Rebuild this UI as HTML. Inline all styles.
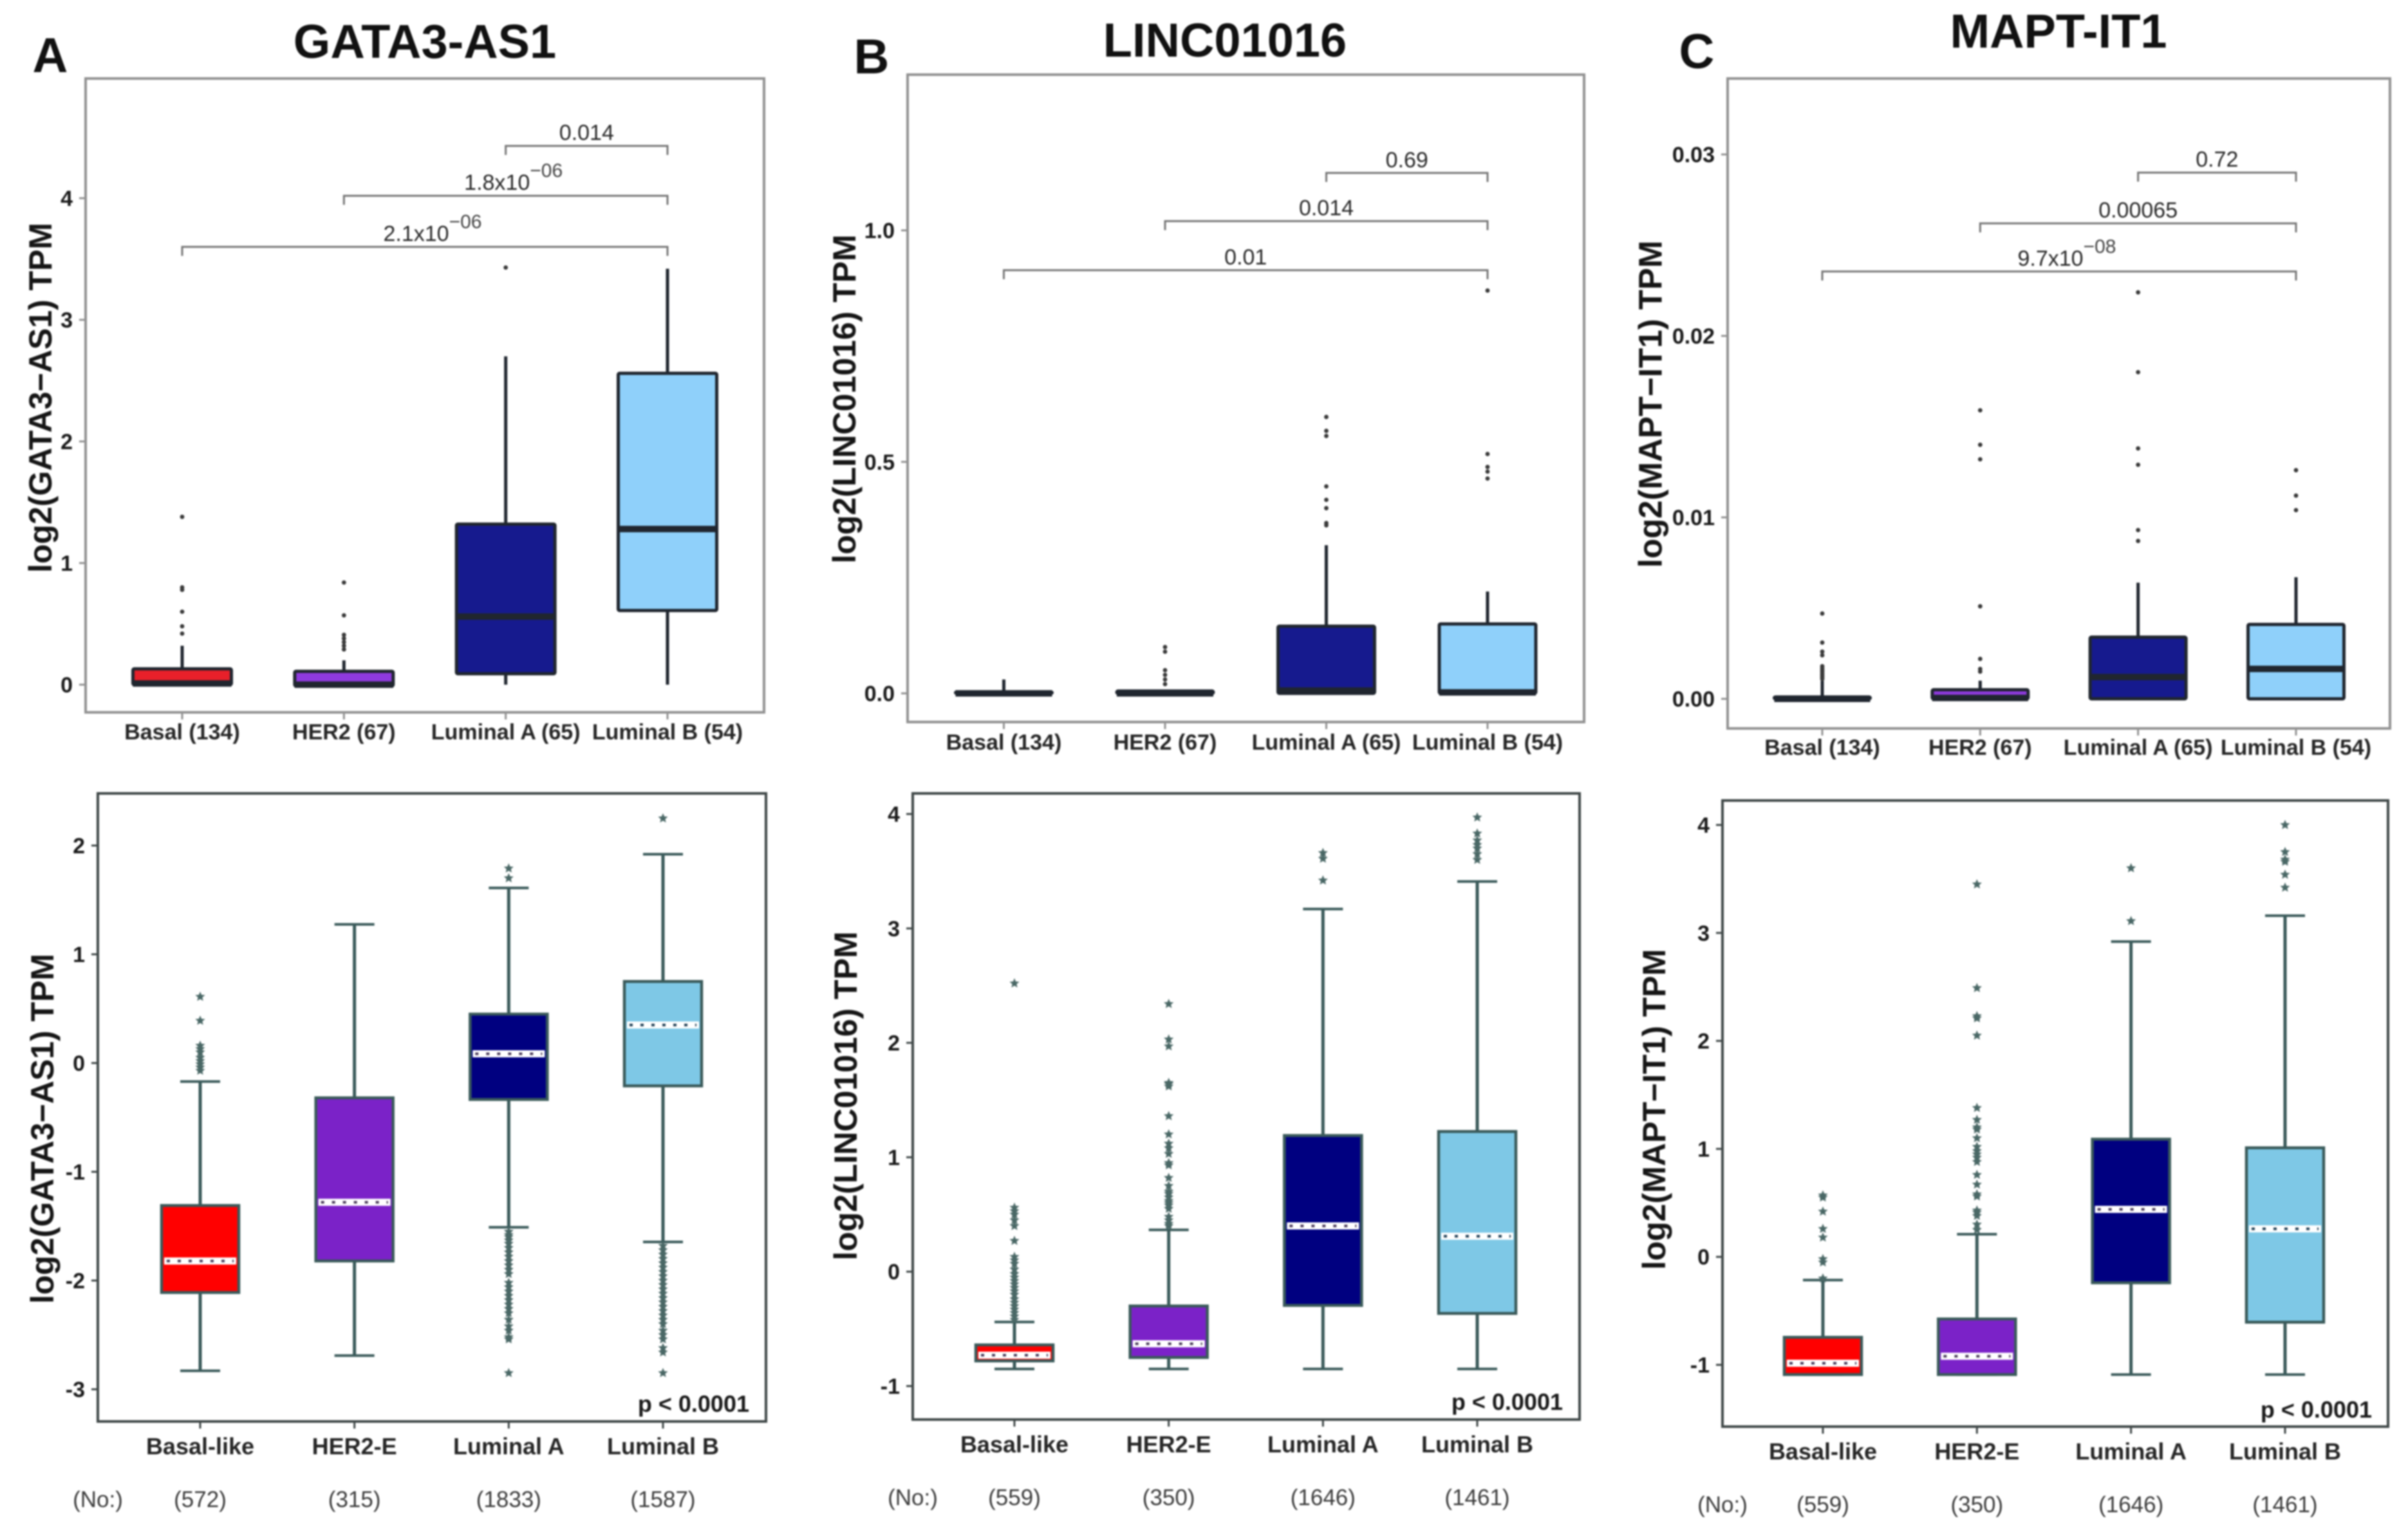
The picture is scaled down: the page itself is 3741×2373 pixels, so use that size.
<!DOCTYPE html>
<html lang="en">
<head>
<meta charset="utf-8">
<title>Subtype boxplots of GATA3-AS1, LINC01016 and MAPT-IT1</title>
<style>
html,body{margin:0;padding:0;background:#fff;}
#figure{display:block;width:3741px;height:2373px;filter:blur(1.3px);font-family:"Liberation Sans",Arial,sans-serif;}
.title{font-size:74px;font-weight:bold;fill:#111;text-anchor:middle;}
.letter{font-size:76px;font-weight:bold;fill:#111;text-anchor:middle;}
.ytitle{font-size:50px;font-weight:bold;fill:#161616;text-anchor:middle;dominant-baseline:central;}
</style>
</head>
<body>
<svg id="figure" xmlns="http://www.w3.org/2000/svg" width="3741" height="2373" viewBox="0 0 3741 2373">
  <rect x="0" y="0" width="3741" height="2373" fill="#fff"/>
  <text class="title" x="660" y="90">GATA3-AS1</text>
  <text class="title" x="1903" y="88">LINC01016</text>
  <text class="title" x="3198" y="74">MAPT-IT1</text>
  <text class="letter" x="78" y="112">A</text>
  <text class="letter" x="1354" y="114">B</text>
  <text class="letter" x="2636" y="106">C</text>
  <text class="ytitle" transform="translate(63 618) rotate(-90)">log2(GATA3−AS1) TPM</text>
  <text class="ytitle" transform="translate(1312 620) rotate(-90)">log2(LINC01016) TPM</text>
  <text class="ytitle" style="font-size:51px" transform="translate(2564 628) rotate(-90)">log2(MAPT−IT1) TPM</text>
  <text class="ytitle" transform="translate(66 1754) rotate(-90)">log2(GATA3−AS1) TPM</text>
  <text class="ytitle" transform="translate(1314 1703) rotate(-90)">log2(LINC01016) TPM</text>
  <text class="ytitle" transform="translate(2570 1724) rotate(-90)">log2(MAPT−IT1) TPM</text>
</svg>
<script>
/* ---------- shared categories ---------- */
const topCategories = ['Basal (134)', 'HER2 (67)', 'Luminal A (65)', 'Luminal B (54)'];
const bottomCategories = ['Basal-like', 'HER2-E', 'Luminal A', 'Luminal B'];
const topFills = ['#e8202a', '#8f3ade', '#161a8e', '#8fd0fa'];
const bottomFills = ['#ff0000', '#7b22c8', '#000080', '#7ec8e6'];

/* ---------- panel A, upper plot ---------- */
const aTopTicks = [0, 1, 2, 3, 4];
const aTopQ1 = [0.0, -0.01, 0.09, 0.61];
const aTopMedian = [0.01, 0.0, 0.56, 1.28];
const aTopQ3 = [0.13, 0.11, 1.32, 2.56];
const aTopLow = [0.0, -0.01, 0.0, 0.0];
const aTopHigh = [0.32, 0.2, 2.7, 3.42];
const aTopOutliers = [[0.42, 0.48, 0.6, 0.78, 0.8, 1.38], [0.29, 0.32, 0.35, 0.38, 0.41, 0.57, 0.84], [3.43], []];
const aTopBracketLevels = [3.6, 4.02, 4.43];
const aTopBracketStart = [0, 1, 2];
const aTopBracketLabels = ['2.1x10', '1.8x10', '0.014'];
const aTopBracketExps = ['−06', '−06', ''];

/* ---------- panel B, upper plot ---------- */
const bTopTicks = [0, 0.5, 1];
const bTopTickLabels = ['0.0', '0.5', '1.0'];
const bTopQ1 = [0.0, 0.0, 0.0, 0.0];
const bTopMedian = [0.0, 0.0, 0.006, 0.002];
const bTopQ3 = [0.003, 0.005, 0.145, 0.15];
const bTopLow = [0.0, 0.0, 0.0, 0.0];
const bTopHigh = [0.03, 0.005, 0.32, 0.22];
const bTopOutliers = [[], [0.02, 0.03, 0.04, 0.05, 0.09, 0.1], [0.363, 0.368, 0.4, 0.418, 0.447, 0.556, 0.567, 0.597], [0.464, 0.479, 0.489, 0.517, 0.87]];
const bTopBracketLevels = [0.914, 1.02, 1.124];
const bTopBracketStart = [0, 1, 2];
const bTopBracketLabels = ['0.01', '0.014', '0.69'];
const bTopBracketExps = ['', '', ''];

/* ---------- panel C, upper plot ---------- */
const cTopTicks = [0, 0.01, 0.02, 0.03];
const cTopTickLabels = ['0.00', '0.01', '0.02', '0.03'];
const cTopQ1 = [0.0, 0.0, 0.0, 0.0];
const cTopMedian = [0.0, 0.00005, 0.0012, 0.00165];
const cTopQ3 = [0.0001, 0.0005, 0.0034, 0.0041];
const cTopLow = [0.0, 0.0, 0.0, 0.0];
const cTopHigh = [0.001, 0.001, 0.0064, 0.0067];
const cTopOutliers = [[0.0011, 0.0012, 0.0013, 0.0014, 0.0015, 0.0016, 0.0017, 0.0018, 0.0024, 0.0026, 0.0031, 0.0047], [0.0015, 0.00165, 0.0022, 0.0051, 0.0132, 0.014, 0.0159], [0.0087, 0.0093, 0.0129, 0.0138, 0.018, 0.0224], [0.0104, 0.0112, 0.0126]];
const cTopBracketLevels = [0.02355, 0.0262, 0.029];
const cTopBracketStart = [0, 1, 2];
const cTopBracketLabels = ['9.7x10', '0.00065', '0.72'];
const cTopBracketExps = ['−08', '', ''];

/* ---------- panel A, lower plot ---------- */
const aBotTicks = [-3, -2, -1, 0, 1, 2];
const aBotCounts = ['(572)', '(315)', '(1833)', '(1587)'];
const aBotQ1 = [-2.11, -1.82, -0.335, -0.21];
const aBotMedian = [-1.82, -1.28, 0.085, 0.35];
const aBotQ3 = [-1.31, -0.32, 0.45, 0.75];
const aBotLow = [-2.83, -2.69, -1.51, -1.645];
const aBotHigh = [-0.17, 1.275, 1.61, 1.92];
const aBotOutliers = [
  [-0.07, -0.04, -0.01, 0.02, 0.05, 0.1, 0.13, 0.16, 0.39, 0.61],
  [],
  [1.7, 1.79, -1.55, -1.58, -1.6, -1.63, -1.66, -1.7, -1.74, -1.78, -1.82, -1.86, -1.9, -1.94, -2.02, -2.06, -2.1, -2.14, -2.18, -2.22, -2.26, -2.3, -2.36, -2.42, -2.46, -2.52, -2.54, -2.85],
  [2.25, -1.68, -1.72, -1.76, -1.8, -1.84, -1.88, -1.92, -1.96, -2.0, -2.04, -2.08, -2.12, -2.16, -2.2, -2.24, -2.28, -2.32, -2.36, -2.4, -2.46, -2.5, -2.54, -2.62, -2.66, -2.85]
];

/* ---------- panel B, lower plot ---------- */
const bBotTicks = [-1, 0, 1, 2, 3, 4];
const bBotCounts = ['(559)', '(350)', '(1646)', '(1461)'];
const bBotQ1 = [-0.78, -0.75, -0.295, -0.365];
const bBotMedian = [-0.73, -0.63, 0.4, 0.31];
const bBotQ3 = [-0.64, -0.3, 1.19, 1.225];
const bBotLow = [-0.85, -0.85, -0.85, -0.85];
const bBotHigh = [-0.44, 0.365, 3.17, 3.41];
const bBotOutliers = [
  [-0.42, -0.39, -0.36, -0.33, -0.3, -0.27, -0.24, -0.2, -0.17, -0.14, -0.11, -0.08, -0.05, -0.02, 0.02, 0.07, 0.1, 0.13, 0.27, 0.4, 0.45, 0.5, 0.53, 0.56, 2.52],
  [0.4, 0.42, 0.45, 0.48, 0.55, 0.58, 0.6, 0.62, 0.65, 0.68, 0.7, 0.75, 0.82, 0.93, 0.95, 1.03, 1.08, 1.12, 1.2, 1.36, 1.62, 1.64, 1.65, 1.97, 2.03, 2.34],
  [3.42, 3.61, 3.66],
  [3.6, 3.65, 3.7, 3.73, 3.77, 3.83, 3.97]
];

/* ---------- panel C, lower plot ---------- */
const cBotTicks = [-1, 0, 1, 2, 3, 4];
const cBotCounts = ['(559)', '(350)', '(1646)', '(1461)'];
const cBotQ1 = [-1.09, -1.09, -0.24, -0.605];
const cBotMedian = [-0.985, -0.92, 0.44, 0.26];
const cBotQ3 = [-0.745, -0.575, 1.09, 1.01];
const cBotLow = [-1.09, -1.09, -1.09, -1.09];
const cBotHigh = [-0.215, 0.21, 2.92, 3.16];
const cBotOutliers = [
  [-0.2, -0.05, -0.02, 0.18, 0.26, 0.42, 0.55, 0.57],
  [0.25, 0.3, 0.38, 0.41, 0.43, 0.56, 0.58, 0.67, 0.76, 0.88, 0.92, 0.95, 0.98, 1.02, 1.1, 1.18, 1.2, 1.27, 1.38, 2.05, 2.21, 2.23, 2.49, 3.45],
  [3.11, 3.6],
  [3.42, 3.54, 3.66, 3.68, 3.75, 4.0]
];

/* ---------- plot frames (layout only) ---------- */
const frameATop = {l:133, r:1187, t:122, b:1107, c0:283, c3:1037, v0:0, p0:1064, v1:4, p1:308, boxW:153, labelY:1149};
const frameBTop = {l:1410, r:2461, t:116, b:1122, c0:1559.5, c3:2311, v0:0, p0:1077.5, v1:1, p1:358, boxW:150, labelY:1165};
const frameCTop = {l:2684, r:3713, t:122, b:1132, c0:2831, c3:3567, v0:0, p0:1086, v1:0.03, p1:240, boxW:149, labelY:1173};
const frameABot = {l:152, r:1190, t:1233, b:2209, c0:311, c3:1030, v0:-3, p0:2159, v1:2, p1:1314, boxW:120, labelY:2260, countY:2342, pX:1164, pY:2194};
const frameBBot = {l:1418, r:2454, t:1233, b:2206, c0:1576, c3:2295, v0:-1, p0:2154, v1:4, p1:1265, boxW:120, labelY:2257, countY:2339, pX:2428, pY:2191};
const frameCBot = {l:2676, r:3710, t:1244, b:2217, c0:2832, c3:3550, v0:-1, p0:2121, v1:4, p1:1282, boxW:120, labelY:2268, countY:2350, pX:3685, pY:2203};

const svg = document.getElementById('figure');
const NS = 'http://www.w3.org/2000/svg';

function add(tag, attrs, parent) {
  const node = document.createElementNS(NS, tag);
  for (const k in attrs) node.setAttribute(k, attrs[k]);
  parent.appendChild(node);
  return node;
}
function yScale(f) { return function (v) { return f.p0 + (v - f.v0) * (f.p1 - f.p0) / (f.v1 - f.v0); }; }
function xScale(f) { return function (i) { return f.c0 + i * (f.c3 - f.c0) / 3; }; }
function starPath(cx, cy, R) {
  let d = '';
  for (let i = 0; i < 10; i++) {
    const r = i % 2 ? R * 0.45 : R;
    const a = -Math.PI / 2 + i * Math.PI / 5;
    d += (i ? 'L' : 'M') + (cx + r * Math.cos(a)).toFixed(1) + ' ' + (cy + r * Math.sin(a)).toFixed(1);
  }
  return d + 'Z';
}

function drawFrame(id, f, ticks, tickLabels, categories, color, borderW, fontSize) {
  const y = yScale(f), x = xScale(f);
  const g = add('g', {}, svg);
  
  
  const border = add('rect', {x:f.l, y:f.t, width:f.r - f.l, height:f.b - f.t, fill:'#fff', stroke:color, 'stroke-width':borderW}, g);
  
  
  ticks.forEach(function (v, i) {
    const tick = add('line', {x1:f.l - 10, x2:f.l, y1:y(v), y2:y(v), stroke:color, 'stroke-width':3}, g);
    
    
    const lab = add('text', {x:f.l - 20, y:y(v) + 12, 'text-anchor':'end', 'font-size':34, 'font-weight':'bold', fill:'#1a1a1a'}, g);
    lab.textContent = tickLabels ? tickLabels[i] : String(v);
    
    
  });
  categories.forEach(function (c, i) {
    const tick = add('line', {x1:x(i), x2:x(i), y1:f.b, y2:f.b + 11, stroke:color, 'stroke-width':3}, g);
    
    
    const lab = add('text', {x:x(i), y:f.labelY, 'text-anchor':'middle', 'font-size':fontSize, 'font-weight':'bold', fill:'#262626'}, g);
    lab.textContent = c;
    
    
  });
  return g;
}

function drawTop(id, f, ticks, tickLabels, q1, med, q3, low, high, outliers, levels, starts, labels, exps) {
  const g = drawFrame(id, f, ticks, tickLabels, topCategories, '#929292', 4, 34);
  const y = yScale(f), x = xScale(f);
  const ink = '#20262f';
  topCategories.forEach(function (c, i) {
    const whisker = add('line', {x1:x(i), x2:x(i), y1:y(low[i]), y2:y(high[i]), stroke:ink, 'stroke-width':5}, g);
    
    
    const box = add('rect', {x:x(i) - f.boxW / 2, y:y(q3[i]), width:f.boxW, height:y(q1[i]) - y(q3[i]), fill:topFills[i], stroke:ink, 'stroke-width':5, rx:2}, g);
    
    
    const median = add('line', {x1:x(i) - f.boxW / 2, x2:x(i) + f.boxW / 2, y1:y(med[i]), y2:y(med[i]), stroke:ink, 'stroke-width':10}, g);
    
    
    outliers[i].forEach(function (v, j) {
      const pt = add('circle', {cx:x(i), cy:y(v), r:3.4, fill:'#3a3a3a'}, g);
      
      
    });
  });
  levels.forEach(function (v, i) {
    const x1 = x(starts[i]), x2 = x(3), py = y(v);
    const br = add('path', {d:'M' + x1 + ' ' + (py + 14) + 'V' + py + 'H' + x2 + 'V' + (py + 14), fill:'none', stroke:'#777', 'stroke-width':3}, g);
    
    
    const shift = exps[i] ? 12 : 0;
    const t = add('text', {x:(x1 + x2) / 2 + shift, y:py - 9, 'text-anchor':'middle', 'font-size':34, fill:'#2a2a2a'}, g);
    
    
    const base = add('tspan', {}, t);
    base.textContent = labels[i];
    if (exps[i]) {
      const sup = add('tspan', {dy:-20, 'font-size':30, fill:'#444'}, t);
      sup.textContent = exps[i];
    }
  });
}

function drawBottom(id, f, ticks, counts, q1, med, q3, low, high, outliers) {
  const g = drawFrame(id, f, ticks, null, bottomCategories, '#404848', 4, 36);
  const y = yScale(f), x = xScale(f);
  const ink = '#3a5a5a';
  bottomCategories.forEach(function (c, i) {
    const whisker = add('line', {x1:x(i), x2:x(i), y1:y(low[i]), y2:y(high[i]), stroke:ink, 'stroke-width':5}, g);
    
    
    const capLow = add('line', {x1:x(i) - 31, x2:x(i) + 31, y1:y(low[i]), y2:y(low[i]), stroke:ink, 'stroke-width':4}, g);
    
    
    const capHigh = add('line', {x1:x(i) - 31, x2:x(i) + 31, y1:y(high[i]), y2:y(high[i]), stroke:ink, 'stroke-width':4}, g);
    
    
    const box = add('rect', {x:x(i) - f.boxW / 2, y:y(q3[i]), width:f.boxW, height:y(q1[i]) - y(q3[i]), fill:bottomFills[i], stroke:ink, 'stroke-width':4.5}, g);
    
    
    const band = add('line', {x1:x(i) - f.boxW / 2 + 4, x2:x(i) + f.boxW / 2 - 4, y1:y(med[i]), y2:y(med[i]), stroke:'#fff', 'stroke-width':11}, g);
    
    
    const dots = add('line', {x1:x(i) - f.boxW / 2 + 8, x2:x(i) + f.boxW / 2 - 8, y1:y(med[i]), y2:y(med[i]), stroke:bottomFills[i] === '#7ec8e6' ? '#1f3f55' : '#4a3a5a', 'stroke-width':4, 'stroke-dasharray':'5 12'}, g);
    
    
    outliers[i].forEach(function (v, j) {
      const pt = add('path', {d:starPath(x(i), y(v), 8), fill:'#4a6866'}, g);
      
      
    });
    const cnt = add('text', {x:x(i), y:f.countY, 'text-anchor':'middle', 'font-size':35, fill:'#3c3c3c'}, g);
    cnt.textContent = counts[i];
    
    
  });
  const no = add('text', {x:f.l, y:f.countY, 'text-anchor':'middle', 'font-size':35, fill:'#3c3c3c'}, g);
  no.textContent = '(No:)';
  
  
  const p = add('text', {x:f.pX, y:f.pY, 'text-anchor':'end', 'font-size':36, 'font-weight':'bold', fill:'#1a1a1a'}, g);
  p.textContent = 'p < 0.0001';
  
  
}

drawTop('a-top', frameATop, aTopTicks, null, aTopQ1, aTopMedian, aTopQ3, aTopLow, aTopHigh, aTopOutliers, aTopBracketLevels, aTopBracketStart, aTopBracketLabels, aTopBracketExps);
drawTop('b-top', frameBTop, bTopTicks, bTopTickLabels, bTopQ1, bTopMedian, bTopQ3, bTopLow, bTopHigh, bTopOutliers, bTopBracketLevels, bTopBracketStart, bTopBracketLabels, bTopBracketExps);
drawTop('c-top', frameCTop, cTopTicks, cTopTickLabels, cTopQ1, cTopMedian, cTopQ3, cTopLow, cTopHigh, cTopOutliers, cTopBracketLevels, cTopBracketStart, cTopBracketLabels, cTopBracketExps);
drawBottom('a-bottom', frameABot, aBotTicks, aBotCounts, aBotQ1, aBotMedian, aBotQ3, aBotLow, aBotHigh, aBotOutliers);
drawBottom('b-bottom', frameBBot, bBotTicks, bBotCounts, bBotQ1, bBotMedian, bBotQ3, bBotLow, bBotHigh, bBotOutliers);
drawBottom('c-bottom', frameCBot, cBotTicks, cBotCounts, cBotQ1, cBotMedian, cBotQ3, cBotLow, cBotHigh, cBotOutliers);
</script>
</body>
</html>
